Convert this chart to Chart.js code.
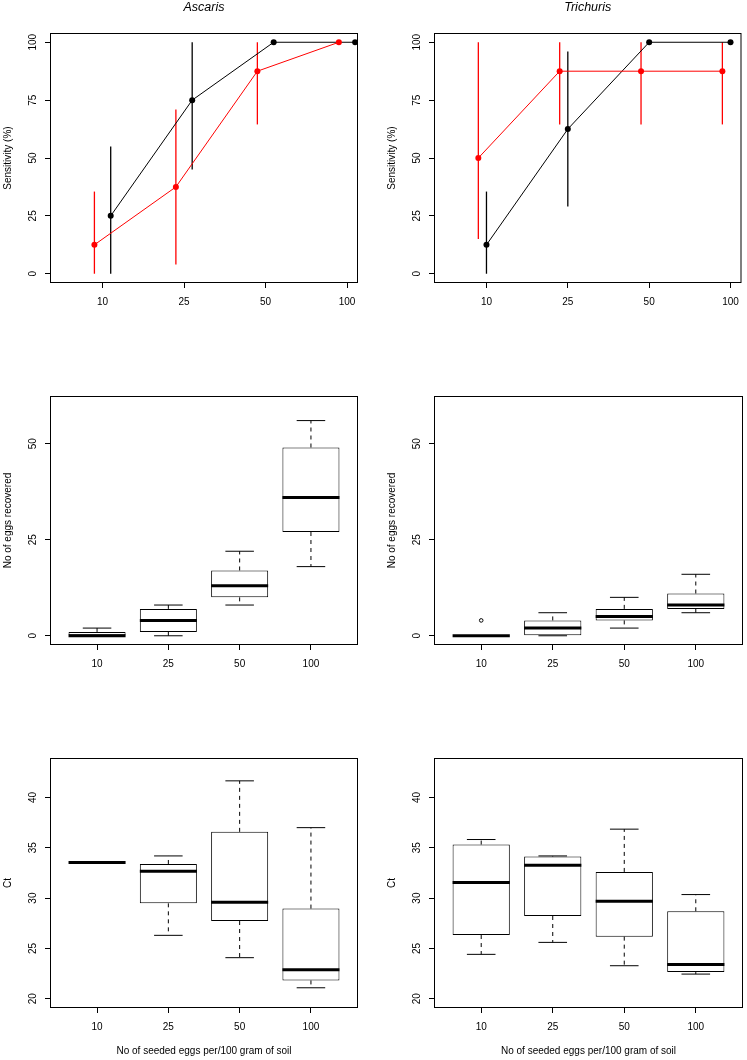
<!DOCTYPE html>
<html>
<head>
<meta charset="utf-8">
<script src="https://cdn.jsdelivr.net/npm/chart.js@4.4.1/dist/chart.umd.min.js"></script>
<style>
  body { margin: 0; background: #fff; }
  #wrap { position: relative; width: 747px; height: 1060px; }
  #wrap canvas { position: absolute; }
</style>
</head>
<body>
<div id="wrap">
  <canvas id="sensAsc"></canvas>
  <canvas id="sensTri"></canvas>
  <canvas id="eggsAsc"></canvas>
  <canvas id="eggsTri"></canvas>
  <canvas id="ctAsc"></canvas>
  <canvas id="ctTri"></canvas>
</div>
<script>
const FONT = '"Liberation Sans", Arial, Helvetica, sans-serif';

const doseLabels = ['10', '25', '50', '100'];

// sensitivity (%) and its limits, top row
const ascBlack   = [25, 75, 100, 100];
const ascBlackLo = [0, 45, 100, 100];
const ascBlackHi = [55, 100, 100, 100];
const ascRed     = [12.5, 37.5, 87.5, 100];
const ascRedLo   = [0, 4, 64.5, 100];
const ascRedHi   = [35.5, 71, 100, 100];
const triBlack   = [12.5, 62.5, 100, 100];
const triBlackLo = [0, 29, 100, 100];
const triBlackHi = [35.5, 96, 100, 100];
const triRed     = [50, 87.5, 87.5, 87.5];
const triRedLo   = [15, 64.5, 64.5, 64.5];
const triRedHi   = [100, 100, 100, 100];

// box stats per dose: [min, q1, median, q3, max]
const ascEggs = [[0, 0, 0, 1, 2], [0, 1, 4, 7, 8], [8, 10, 13, 17, 22], [18, 27, 36, 49, 56]];
const triEggs = [[0, 0, 0, 0, 0], [0, 0, 2, 4, 6], [2, 4, 5, 7, 10], [6, 7, 8, 11, 16]];
const triEggsOut = [[4], [], [], []];
const ascCt = [[33.53, 33.53, 33.53, 33.53, 33.53], [26.3, 29.48, 32.67, 33.39, 34.19],
               [24.08, 27.72, 29.58, 36.58, 41.65], [21.09, 21.82, 22.89, 28.96, 37.0]];
const triCt = [[24.41, 26.33, 31.54, 35.32, 35.82], [25.6, 28.22, 33.26, 34.13, 34.19],
               [23.28, 26.17, 29.68, 32.6, 36.85], [22.45, 22.65, 23.41, 28.69, 30.35]];

const sensTicks = [0, 25, 50, 75, 100];
const eggTicks = [0, 25, 50];
const ctTicks = [20, 25, 30, 35, 40];

// page layout: canvas slots and the plot box inside each
const cols = [{ left: 0, width: 373, boxL: 50, boxR: 358 }, { left: 373, width: 374, boxL: 434, boxR: 743 }];
const rows = [{ top: 0, height: 330, boxT: 33, boxB: 283 },
              { top: 330, height: 350, boxT: 396, boxB: 645 },
              { top: 680, height: 380, boxT: 758, boxB: 1008 }];

function rPanel(p) {
    return {
        id: 'rPanel',
        beforeDatasetsDraw(chart) {
            if (!p.errors) return;
            const { ctx, scales: { x, y } } = chart;
            ctx.save();
            ctx.lineWidth = 1.3;
            p.errors.forEach(e => {
                ctx.strokeStyle = e.color;
                e.lo.forEach((lo, i) => {
                    const px = x.getPixelForValue(i + 1 + e.shift);
                    ctx.beginPath();
                    ctx.moveTo(px, y.getPixelForValue(lo));
                    ctx.lineTo(px, y.getPixelForValue(e.hi[i]));
                    ctx.stroke();
                });
            });
            ctx.restore();
        },
        afterDatasetsDraw(chart) {
            if (!p.stats) return;
            const { ctx, scales: { x, y } } = chart;
            ctx.save();
            ctx.strokeStyle = '#000';
            p.stats.forEach((s, i) => {
                const cx = x.getPixelForValue(i + 1);
                const capL = x.getPixelForValue(i + 0.8), capR = x.getPixelForValue(i + 1.2);
                const boxL = x.getPixelForValue(i + 0.6), boxR = x.getPixelForValue(i + 1.4);
                // whiskers
                ctx.lineWidth = 1;
                ctx.setLineDash([4, 4]);
                ctx.beginPath();
                ctx.moveTo(cx, y.getPixelForValue(s[3])); ctx.lineTo(cx, y.getPixelForValue(s[4]));
                ctx.moveTo(cx, y.getPixelForValue(s[1])); ctx.lineTo(cx, y.getPixelForValue(s[0]));
                ctx.stroke();
                ctx.setLineDash([]);
                ctx.beginPath();
                [s[0], s[4]].forEach(v => {
                    ctx.moveTo(capL, y.getPixelForValue(v)); ctx.lineTo(capR, y.getPixelForValue(v));
                });
                ctx.stroke();
                // median
                ctx.lineWidth = 3;
                ctx.beginPath();
                ctx.moveTo(boxL, y.getPixelForValue(s[2])); ctx.lineTo(boxR, y.getPixelForValue(s[2]));
                ctx.stroke();
                // outliers
                if (p.outliers) {
                    ctx.lineWidth = 1;
                    p.outliers[i].forEach(v => {
                        ctx.beginPath();
                        ctx.arc(cx, y.getPixelForValue(v), 1.8, 0, Math.PI * 2);
                        ctx.stroke();
                    });
                }
            });
            ctx.restore();
        },
        afterDraw(chart) {
            const { ctx, chartArea: a, scales: { y } } = chart;
            ctx.save();
            ctx.strokeStyle = '#000';
            ctx.lineWidth = 1;
            ctx.strokeRect(a.left + 0.5, a.top + 0.5, a.right - a.left - 1, a.bottom - a.top - 1);
            ctx.fillStyle = '#000';
            ctx.textAlign = 'center';
            ctx.textBaseline = 'middle';
            ctx.font = '10px ' + FONT;
            p.yTicks.forEach(v => {
                ctx.save();
                ctx.translate(a.left - 16.5, y.getPixelForValue(v));
                ctx.rotate(-Math.PI / 2);
                ctx.fillText(String(v), 0, 0);
                ctx.restore();
            });
            ctx.save();
            ctx.translate(a.left - 42, (a.top + a.bottom) / 2);
            ctx.rotate(-Math.PI / 2);
            ctx.fillText(p.ylab, 0, 0);
            ctx.restore();
            if (p.xlab) ctx.fillText(p.xlab, (a.left + a.right) / 2, a.bottom + 43);
            if (p.title) {
                ctx.font = 'italic 12.5px ' + FONT;
                ctx.fillText(p.title, (a.left + a.right) / 2, 8);
            }
            ctx.restore();
        }
    };
}

function makePanel(id, col, row, type, datasets, xr, yr, p) {
    const c = cols[col], r = rows[row];
    const cv = document.getElementById(id);
    cv.width = c.width;
    cv.height = r.height;
    cv.style.left = c.left + 'px';
    cv.style.top = r.top + 'px';
    cv.style.width = c.width + 'px';
    cv.style.height = r.height + 'px';
    return new Chart(cv.getContext('2d'), {
        type: type,
        data: { datasets: datasets },
        options: {
            responsive: false,
            animation: false,
            devicePixelRatio: 1,
            events: [],
            layout: { padding: { top: r.boxT - r.top, right: c.left + c.width - c.boxR, left: 0, bottom: 0 } },
            plugins: { legend: { display: false }, tooltip: { enabled: false }, title: { display: false } },
            scales: {
                x: {
                    type: 'linear', min: xr[0], max: xr[1], offset: false,
                    afterBuildTicks: s => { s.ticks = doseLabels.map((_, i) => ({ value: i + 1 })); },
                    afterFit: s => { s.height = r.top + r.height - r.boxB; },
                    grid: { drawOnChartArea: false, drawTicks: true, tickLength: 5, color: '#000', lineWidth: 1, offset: false },
                    border: { display: false },
                    ticks: {
                        color: '#000', font: { family: FONT, size: 10 }, padding: 8,
                        maxRotation: 0, autoSkip: false,
                        callback: (v, i) => doseLabels[i]
                    }
                },
                y: {
                    type: 'linear', min: yr[0], max: yr[1],
                    afterBuildTicks: s => { s.ticks = p.yTicks.map(v => ({ value: v })); },
                    afterFit: s => { s.width = c.boxL - c.left; },
                    grid: { drawOnChartArea: false, drawTicks: true, tickLength: 5, color: '#000', lineWidth: 1 },
                    border: { display: false },
                    ticks: { display: false }
                }
            }
        },
        plugins: [rPanel(p)]
    });
}

function sensSeries(vals, shift, color) {
    return {
        data: vals.map((v, i) => ({ x: i + 1 + shift, y: v })),
        borderColor: color,
        backgroundColor: color,
        borderWidth: 1,
        pointRadius: 3,
        pointBorderWidth: 0,
        pointBackgroundColor: color,
        tension: 0
    };
}

function boxSeries(stats) {
    return {
        data: stats.map((s, i) => ({ x: i + 1, y: [s[1], s[3]] })),
        backgroundColor: '#fff',
        borderColor: '#000',
        borderWidth: 1,
        borderSkipped: false,
        barPercentage: 0.8,
        categoryPercentage: 1
    };
}

const sensX = [0.355, 4.135];
const boxX = [0.34, 4.66];

makePanel('sensAsc', 0, 0, 'line',
    [sensSeries(ascRed, -0.1, '#ff0000'), sensSeries(ascBlack, 0.1, '#000000')],
    sensX, [-4, 104], {
        title: 'Ascaris', ylab: 'Sensitivity (%)', yTicks: sensTicks,
        errors: [{ lo: ascBlackLo, hi: ascBlackHi, shift: 0.1, color: '#000' },
                 { lo: ascRedLo, hi: ascRedHi, shift: -0.1, color: '#ff0000' }]
    });

makePanel('sensTri', 1, 0, 'line',
    [sensSeries(triRed, -0.1, '#ff0000'), sensSeries(triBlack, 0, '#000000')],
    sensX, [-4, 104], {
        title: 'Trichuris', ylab: 'Sensitivity (%)', yTicks: sensTicks,
        errors: [{ lo: triBlackLo, hi: triBlackHi, shift: 0, color: '#000' },
                 { lo: triRedLo, hi: triRedHi, shift: -0.1, color: '#ff0000' }]
    });

makePanel('eggsAsc', 0, 1, 'bar', [boxSeries(ascEggs)], boxX, [-2.4, 62.4],
    { ylab: 'No of eggs recovered', yTicks: eggTicks, stats: ascEggs });

makePanel('eggsTri', 1, 1, 'bar', [boxSeries(triEggs)], boxX, [-2.4, 62.4],
    { ylab: 'No of eggs recovered', yTicks: eggTicks, stats: triEggs, outliers: triEggsOut });

makePanel('ctAsc', 0, 2, 'bar', [boxSeries(ascCt)], boxX, [19.08, 43.92],
    { ylab: 'Ct', yTicks: ctTicks, stats: ascCt, xlab: 'No of seeded eggs per/100 gram of soil' });

makePanel('ctTri', 1, 2, 'bar', [boxSeries(triCt)], boxX, [19.08, 43.92],
    { ylab: 'Ct', yTicks: ctTicks, stats: triCt, xlab: 'No of seeded eggs per/100 gram of soil' });
</script>
</body>
</html>
